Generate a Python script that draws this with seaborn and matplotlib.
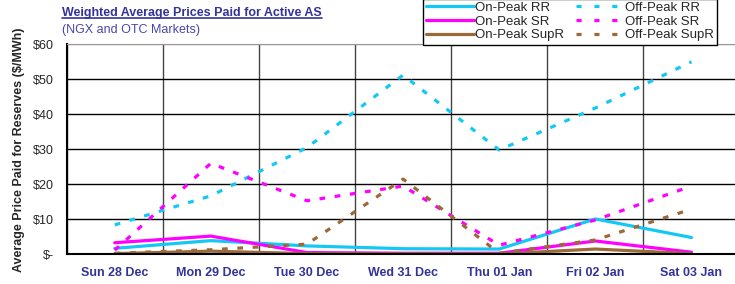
import pandas as pd
import seaborn as sns
from matplotlib import pyplot as plt
from matplotlib.lines import Line2D
from matplotlib.ticker import FixedLocator

days = ['Sun 28 Dec', 'Mon 29 Dec', 'Tue 30 Dec', 'Wed 31 Dec', 'Thu 01 Jan', 'Fri 02 Jan', 'Sat 03 Jan']

on_rr = [1.7, 3.9, 2.4, 1.6, 1.5, 10.1, 4.8]
on_sr = [3.3, 5.2, 0.5, 0.3, 0.3, 3.8, 0.6]
on_supr = [0.2, 0.9, 0.2, 0.1, 0.1, 1.5, 0.2]
off_rr = [8.4, 16.7, 30.5, 51.2, 29.8, 41.8, 55.0]
off_sr = [1.2, 26.0, 15.3, 19.5, 2.6, 9.8, 19.5]
off_supr = [0.3, 1.3, 2.9, 21.5, 0.3, 4.1, 12.9]

series = {
    'On-Peak RR': on_rr, 'On-Peak SR': on_sr, 'On-Peak SupR': on_supr,
    'Off-Peak RR': off_rr, 'Off-Peak SR': off_sr, 'Off-Peak SupR': off_supr,
}
order = list(series.keys())

rows = []
for name, vals in series.items():
    for i, v in enumerate(vals):
        rows.append({'day': i, 'price': v, 'series': name})
df = pd.DataFrame(rows)

cyan = '#14C8F5'
magenta = '#FF00FF'
brown = '#9C6A38'
palette = {'On-Peak RR': cyan, 'On-Peak SR': magenta, 'On-Peak SupR': brown,
           'Off-Peak RR': cyan, 'Off-Peak SR': magenta, 'Off-Peak SupR': brown}
dash = (1.8, 3.0)
dashes = {'On-Peak RR': '', 'On-Peak SR': '', 'On-Peak SupR': '',
          'Off-Peak RR': dash, 'Off-Peak SR': dash, 'Off-Peak SupR': dash}

sns.set_style('white')
plt.rcParams['font.family'] = ['Liberation Sans', 'DejaVu Sans']

fig = plt.figure(figsize=(7.35, 2.84), dpi=100)
ax = fig.add_axes([66.7 / 735, 29.7 / 284, (739.5 - 66.7) / 735, 210 / 284])

sns.lineplot(data=df, x='day', y='price', hue='series', style='series',
             hue_order=order, style_order=order, palette=palette, dashes=dashes,
             linewidth=2.3, ax=ax, legend=False)

ax.set_xlim(-0.5, 6.5)
ax.set_ylim(0, 60)
ax.set_yticks(range(0, 61, 10))
ax.set_yticklabels(['$-' if v == 0 else f'${v}' for v in range(0, 61, 10)], fontsize=9)
ax.set_xticks(range(len(days)))
ax.set_xticklabels(days, fontsize=9, fontweight='bold', color='#333399')
ax.xaxis.set_minor_locator(FixedLocator([i - 0.5 for i in range(len(days) + 1)]))
ax.tick_params(axis='x', which='major', length=0, pad=9)
ax.tick_params(axis='x', which='minor', length=4, direction='out', color='#333333', width=1)
ax.tick_params(axis='y', length=4, direction='out', color='black', width=1, pad=5)

ax.yaxis.grid(True, color='black', linewidth=1)
ax.xaxis.grid(True, which='minor', color='#444444', linewidth=1)
ax.xaxis.grid(False, which='major')
ax.get_ygridlines()[-1].set_color('#999999')
ax.set_axisbelow(True)

for s in ['left', 'bottom']:
    ax.spines[s].set_color('black')
    ax.spines[s].set_linewidth(1.5)
ax.spines['top'].set_color('#999999')
ax.spines['right'].set_visible(False)

ax.set_xlabel('')
ax.set_ylabel('Average Price Paid for Reserves ($/MWh)', fontsize=9, fontweight='bold', labelpad=6)

handles = [Line2D([], [], color=palette[n], linewidth=2.3,
                  linestyle='-' if dashes[n] == '' else (0, (1.6, 4.0))) for n in order]
leg = fig.legend(handles, order, ncol=2, loc='upper left', bbox_to_anchor=(423 / 735, 1.005),
                 fontsize=9.5, frameon=True, fancybox=False, edgecolor='black', framealpha=1,
                 handlelength=3.6, handletextpad=0.1, columnspacing=0.9,
                 labelspacing=0.1, borderpad=0.25, borderaxespad=0)
leg.get_frame().set_linewidth(1.0)

title = fig.text(62 / 735, 1 - 13 / 284, 'Weighted Average Prices Paid for Active AS',
                 fontsize=9, fontweight='bold', color='#333399', va='center')
fig.text(62 / 735, 1 - 30 / 284, '(NGX and OTC Markets)', fontsize=9,
         color='#4848AA', va='center')

fig.canvas.draw()
bb = title.get_window_extent().transformed(fig.transFigure.inverted())
fig.add_artist(Line2D([bb.x0, bb.x1], [bb.y0 + 0.005, bb.y0 + 0.005],
                      color='#333399', linewidth=1.2, transform=fig.transFigure))

fig.savefig('out.png', dpi=100)
